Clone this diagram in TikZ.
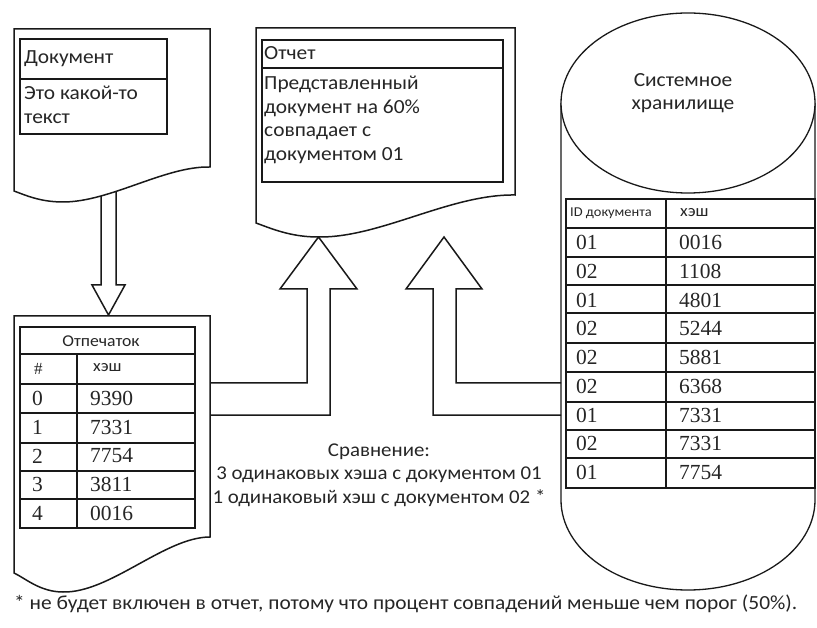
\documentclass[tikz,border=0pt]{standalone}
\usepackage{fontspec}
\setmainfont{Carlito}[FakeStretch=1.07]
\newfontfamily\numfont{Liberation Serif}
\begin{document}
\begin{tikzpicture}[x=1pt,y=-1pt,
  docline/.style={draw=black!90, line width=1.5pt, fill=white, line join=miter},
  arrowline/.style={draw=black!90, line width=1.5pt, line join=miter},
  tabrule/.style={draw=black!90, line width=1.3pt},
  cylline/.style={draw=black!90, line width=1.3pt},
  txt/.style={inner sep=0pt, text=black!85, font=\fontsize{20}{23.5}\selectfont},
  small/.style={inner sep=0pt, text=black!85, font=\fontsize{16.5}{18}\selectfont},
  tiny/.style={inner sep=0pt, text=black!85, font=\fontsize{13.5}{15}\selectfont},
  num/.style={inner sep=0pt, anchor=west, text=black!85, font=\numfont\fontsize{21.5}{24}\selectfont}]
\useasboundingbox (0,0) rectangle (817,628);

% connection points of the wide arrows
\coordinate (fpA) at (210,383);
\coordinate (fpB) at (210,415);
\coordinate (stA) at (561,383);
\coordinate (stB) at (561,415);
\coordinate (repTip) at (318.5,237);
\coordinate (cmpTip) at (444,237);
\coordinate (fpTop) at (108.5,315);

% wide arrow: document -> fingerprint (drawn first, the sheet covers its top)
\draw[arrowline] (101,185) -- (101,285) -- (92,285) -- (fpTop) -- (125,285) -- (116,285) -- (116,180);

% wide arrow: fingerprint -> report
\draw[arrowline] (fpA) -- (307,383) -- (307,289) -- (280,289) -- (repTip)
  -- (357,289) -- (330,289) -- (330,415) -- (fpB);

% wide arrow: storage -> report
\draw[arrowline] (stA) -- (456,383) -- (456,289) -- (482,289) -- (cmpTip)
  -- (406,289) -- (433,289) -- (433,415) -- (stB);

% sheet "Документ"
\path[docline] (14,29) -- (210,29) -- (210,167)
  .. controls (165,166) and (110,202) .. (63,202)
  .. controls (40,202) and (25,195) .. (14,191) -- cycle;
\draw[tabrule] (20,39) rectangle (167,134);
\draw[tabrule] (20,79) -- (167,79);
\node[txt, anchor=west] (docT) at (24,59) {Документ};
\node[txt, anchor=west, align=left] (docB) at (24,105) {Это какой-то\\текст};

% sheet "Отчет"
\path[docline] (256,28) -- (515,28) -- (515,195)
  .. controls (450,194) and (380,238) .. (318,237)
  .. controls (290,237) and (270,228) .. (256,223) -- cycle;
\draw[tabrule] (262,40) rectangle (503,182);
\draw[tabrule] (262,68) -- (503,68);
\node[txt, anchor=west] (repT) at (264,53) {Отчет};
\node[txt, anchor=west, align=left] (repB) at (264,120)
  {Представленный\\документ на 60\%\\совпадает с\\документом 01};

% sheet "Отпечаток"
\path[docline] (14,316) -- (210,316) -- (210,537)
  .. controls (165,537) and (110,593) .. (63,592)
  .. controls (40,592) and (25,578) .. (14,573) -- cycle;
\draw[tabrule] (20,327) rectangle (195,528);
\foreach \yy in {354,384,413,443,471,499} \draw[tabrule] (20,\yy) -- (195,\yy);
\draw[tabrule] (77,354) -- (77,528);
\node[small] (fpHead) at (101,341) {Отпечаток};
\node[inner sep=0pt, anchor=west, text=black!85, font=\numfont\fontsize{17}{18}\selectfont] (fpNo) at (34,369) {\#};
\node[small, anchor=west] (fpHash) at (93,368) {хэш};
\foreach \i/\h [count=\k from 0] in {0/9390,1/7331,2/7754,3/3811,4/0016}{
  \pgfmathsetmacro\yc{398.5+28.75*\k}
  \node[num] (fpi\k) at (32,\yc) {\i};
  \node[num] (fph\k) at (90,\yc) {\h};
}

% storage cylinder
\draw[cylline] (561,103) -- (561,500) arc[start angle=180, end angle=0, x radius=127, y radius=90] -- (815,103);
\draw[cylline, fill=white] (688,103) ellipse [x radius=127, y radius=90];
\node[txt, align=center] (stName) at (683,93) {Системное\\хранилище};
\draw[tabrule] (566,199) rectangle (815,488);
\foreach \yy in {228,257,285,313,343,372,402,430,458} \draw[tabrule] (566,\yy) -- (815,\yy);
\draw[tabrule] (666,199) -- (666,488);
\node[tiny] (stId) at (611,213) {ID документа};
\node[small, anchor=west] (stHash) at (680,213) {хэш};
\foreach \d/\h [count=\k from 0] in {01/0016,02/1108,01/4801,02/5244,02/5881,02/6368,01/7331,02/7331,01/7754}{
  \pgfmathsetmacro\yc{242.5+28.75*\k}
  \node[num] (std\k) at (576,\yc) {\d};
  \node[num] (sth\k) at (679,\yc) {\h};
}

% comparison result
\node[txt, align=center, font=\fontsize{19.5}{23.5}\selectfont] (cmp) at (379,475)
  {Сравнение:\\3 одинаковых хэша с документом 01\\1 одинаковый хэш с документом 02 *};

% footnote
\node[txt, anchor=west] (note) at (14,604)
  {* не будет включен в отчет, потому что процент совпадений меньше чем порог (50\%).};
\end{tikzpicture}
\end{document}
